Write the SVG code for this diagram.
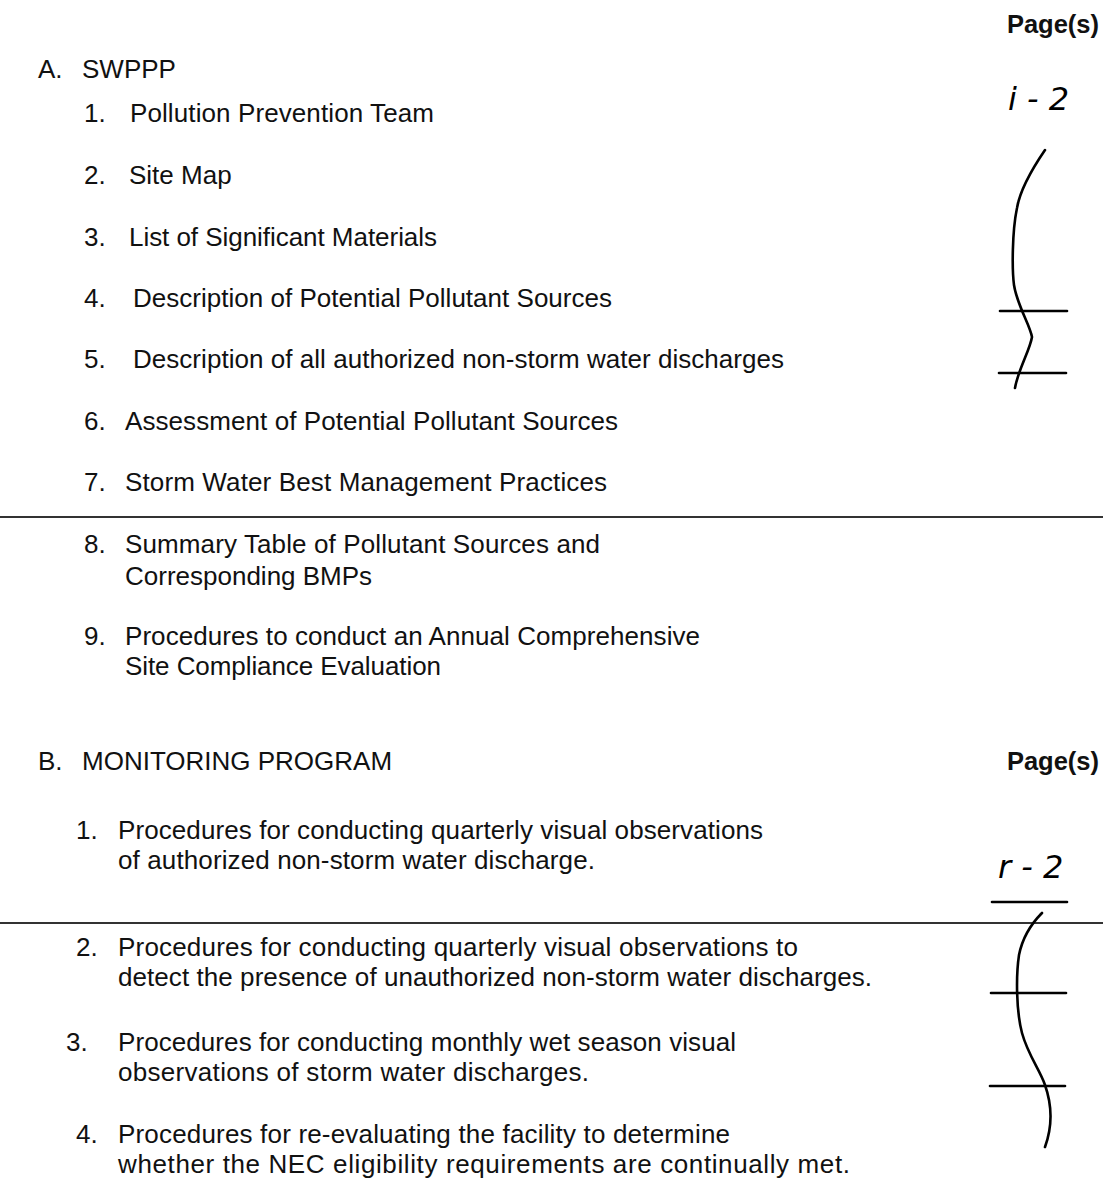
<svg xmlns="http://www.w3.org/2000/svg" width="1103" height="1178" viewBox="0 0 1103 1178">
<style>
text{font-family:"Liberation Sans",Arial,sans-serif;font-size:26px;fill:#111}
.b{font-weight:bold;text-anchor:end;font-size:25.5px}
.hw{font-family:"DejaVu Sans",sans-serif;font-style:italic;font-size:32px;fill:#000}
.rule{stroke:#333;stroke-width:2;fill:none}
.ink{stroke:#000;stroke-width:2.6;fill:none;stroke-linecap:round;stroke-linejoin:round}
</style>
<rect width="1103" height="1178" fill="#fff"/>
<g id="sectionA">
<text class="b" x="1099" y="33">Page(s)</text>
<text x="38" y="78">A.</text>
<text x="82" y="78">SWPPP</text>
<text x="84" y="122">1.</text><text x="130" y="122" textLength="304">Pollution Prevention Team</text>
<text x="84" y="184">2.</text><text x="129" y="184">Site Map</text>
<text x="84" y="246">3.</text><text x="129" y="246" textLength="308">List of Significant Materials</text>
<text x="84" y="307">4.</text><text x="133" y="307" textLength="479">Description of Potential Pollutant Sources</text>
<text x="84" y="368">5.</text><text x="133" y="368" textLength="651">Description of all authorized non-storm water discharges</text>
<text x="84" y="430">6.</text><text x="125" y="430" textLength="493">Assessment of Potential Pollutant Sources</text>
<text x="84" y="491">7.</text><text x="125" y="491" textLength="482">Storm Water Best Management Practices</text>
<text x="84" y="553">8.</text><text x="125" y="553" textLength="475">Summary Table of Pollutant Sources and</text>
<text x="125" y="585">Corresponding BMPs</text>
<text x="84" y="645">9.</text><text x="125" y="645" textLength="575">Procedures to conduct an Annual Comprehensive</text>
<text x="125" y="675" textLength="316">Site Compliance Evaluation</text>
</g>
<g id="sectionB">
<text x="38" y="770">B.</text>
<text x="82" y="770">MONITORING PROGRAM</text>
<text class="b" x="1099" y="770">Page(s)</text>
<text x="76" y="839">1.</text><text x="118" y="839" textLength="645">Procedures for conducting quarterly visual observations</text>
<text x="118" y="869" textLength="477">of authorized non-storm water discharge.</text>
<text x="76" y="956">2.</text><text x="118" y="956" textLength="680">Procedures for conducting quarterly visual observations to</text>
<text x="118" y="986" textLength="754">detect the presence of unauthorized non-storm water discharges.</text>
<text x="66" y="1051">3.</text><text x="118" y="1051" textLength="618">Procedures for conducting monthly wet season visual</text>
<text x="118" y="1081" textLength="471">observations of storm water discharges.</text>
<text x="76" y="1143">4.</text><text x="118" y="1143" textLength="612">Procedures for re-evaluating the facility to determine</text>
<text x="118" y="1173" textLength="732">whether the NEC eligibility requirements are continually met.</text>
</g>
<g id="rules">
<line class="rule" x1="0" y1="517" x2="1103" y2="517"/>
<line class="rule" x1="0" y1="923" x2="1103" y2="923"/>
</g>
<g id="handwriting">
<text class="hw" x="1008" y="110">i - 2</text>
<text class="hw" x="998" y="878">r - 2</text>
<path class="ink" d="M1045,150 C1030,172 1020,190 1017,208 C1012,232 1012,270 1014,285 C1017,305 1030,325 1032,337 C1030,350 1018,370 1015,388"/>
<line class="ink" x1="1000" y1="311" x2="1067" y2="311"/>
<line class="ink" x1="999" y1="373" x2="1066" y2="373"/>
<line class="ink" x1="992" y1="902" x2="1067" y2="902"/>
<path class="ink" d="M1040,915 L1042,913 C1030,925 1022,940 1019,955 C1016,975 1016,1010 1022,1033 C1028,1055 1040,1070 1045,1085 C1052,1105 1053,1125 1045,1147"/>
<line class="ink" x1="991" y1="993" x2="1066" y2="993"/>
<line class="ink" x1="990" y1="1086" x2="1065" y2="1086"/>
</g>
</svg>
